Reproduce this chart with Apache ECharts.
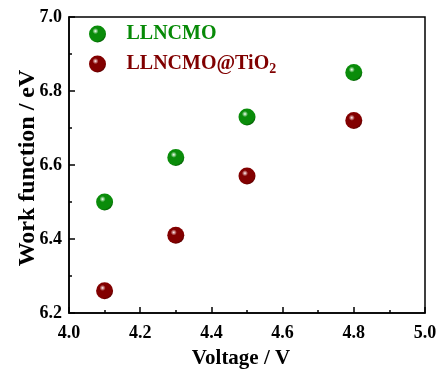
<!DOCTYPE html>
<html>
<head>
<meta charset="utf-8">
<script src="https://cdn.jsdelivr.net/npm/echarts@6/dist/echarts.min.js"></script>
<style>html,body{margin:0;padding:0;background:#fff}#c{width:447px;height:369px}</style>
</head>
<body>
<div id="c"></div>
<script>
var voltage = [4.1, 4.3, 4.5, 4.8];
var llncmo = [6.50, 6.62, 6.73, 6.85];
var llncmoTiO2 = [6.26, 6.41, 6.57, 6.72];
var seriesNames = ['LLNCMO', 'LLNCMO@TiO2'];
var xTicks = ['4.0', '4.2', '4.4', '4.6', '4.8', '5.0'];
var yTicks = ['6.2', '6.4', '6.6', '6.8', '7.0'];

var FONT = '"Liberation Serif", "Times New Roman", serif';

function sphere(light, mid, dark) {
  return {
    type: 'radial', x: 0.38, y: 0.33, r: 0.72,
    colorStops: [
      {offset: 0, color: '#ffffff'},
      {offset: 0.08, color: light},
      {offset: 0.25, color: mid},
      {offset: 0.8, color: mid},
      {offset: 1, color: dark}
    ]
  };
}
var greenFill = sphere('#a8dca8', '#0a8c0a', '#005200');
var redFill = sphere('#d8a0a0', '#820000', '#500000');

function pairs(xs, ys) { return xs.map(function (x, i) { return [x, ys[i]]; }); }

var chart = echarts.init(document.getElementById('c'), null, {renderer: 'canvas'});
chart.setOption({
  animation: false,
  backgroundColor: '#fff',
  grid: {left: 69, right: 22, top: 17, bottom: 56, containLabel: false, outerBoundsMode: 'none', show: true, borderColor: '#000', borderWidth: 1.5, backgroundColor: 'transparent'},
  legend: {
    orient: 'vertical', left: 84, top: 19, itemWidth: 48, itemHeight: 17, itemGap: 8,
    icon: 'circle',
    itemStyle: {opacity: 1},
    data: [
      {name: seriesNames[0], textStyle: {color: '#078a07'}},
      {name: seriesNames[1], textStyle: {color: '#800000'}}
    ],
    formatter: function (n) {
      if (n === 'LLNCMO@TiO2') return '{r|LLNCMO@TiO}{s|2}';
      return '{g|' + n + '}';
    },
    textStyle: {
      fontFamily: FONT, fontWeight: 'bold', fontSize: 20,
      rich: {
        g: {fontFamily: FONT, fontWeight: 'bold', fontSize: 20, color: '#078a07', lineHeight: 20},
        r: {fontFamily: FONT, fontWeight: 'bold', fontSize: 20, color: '#800000', lineHeight: 20},
        s: {fontFamily: FONT, fontWeight: 'bold', fontSize: 14, color: '#800000', lineHeight: 20, padding: [10, 0, 0, 0]}
      }
    }
  },
  xAxis: {
    type: 'value', min: 4.0, max: 5.0, interval: 0.2,
    name: 'Voltage / V', nameLocation: 'middle', nameGap: 35, nameMoveOverlap: false,
    nameTextStyle: {fontFamily: FONT, fontWeight: 'bold', fontSize: 21, color: '#000', padding: [0, 12, 0, 0]},
    axisLine: {show: true, onZero: false, lineStyle: {color: '#000', width: 1.5}},
    axisTick: {show: true, inside: true, length: 6, lineStyle: {color: '#000', width: 1.5}},
    minorTick: {show: true, splitNumber: 2, length: 3, lineStyle: {color: '#000', width: 1.5}},
    splitLine: {show: false},
    axisLabel: {
      margin: 11, fontFamily: FONT, fontWeight: 'bold', fontSize: 18, color: '#000',
      formatter: function (v) { var i = Math.round((v - 4.0) / 0.2); return xTicks[i] || ''; }
    }
  },
  yAxis: {
    type: 'value', min: 6.2, max: 7.0, interval: 0.2,
    name: 'Work function / eV', nameLocation: 'middle', nameGap: 29, nameRotate: 90, nameMoveOverlap: false,
    nameTextStyle: {fontFamily: FONT, fontWeight: 'bold', fontSize: 24, color: '#000', padding: [0, 6, 0, 0]},
    axisLine: {show: true, onZero: false, lineStyle: {color: '#000', width: 1.5}},
    axisTick: {show: true, inside: true, length: 6, lineStyle: {color: '#000', width: 1.5}},
    minorTick: {show: true, splitNumber: 2, length: 3, lineStyle: {color: '#000', width: 1.5}},
    splitLine: {show: false},
    axisLabel: {
      margin: 7, fontFamily: FONT, fontWeight: 'bold', fontSize: 18, color: '#000',
      formatter: function (v) { var i = Math.round((v - 6.2) / 0.2); return yTicks[i] || ''; }
    }
  },
  series: [
    {name: seriesNames[0], type: 'scatter', symbol: 'circle', symbolSize: 17, data: pairs(voltage, llncmo), itemStyle: {color: greenFill, opacity: 1}},
    {name: seriesNames[1], type: 'scatter', symbol: 'circle', symbolSize: 17, data: pairs(voltage, llncmoTiO2), itemStyle: {color: redFill, opacity: 1}}
  ]
});
</script>
</body>
</html>
